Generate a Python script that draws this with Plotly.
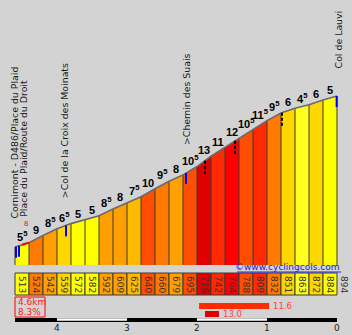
import numpy as np
import plotly.graph_objects as go

# ---------------- data ----------------
altitudes = [513, 524, 542, 559, 572, 582, 592, 609, 625, 640, 660, 679,
             695, 716, 742, 764, 788, 809, 832, 851, 863, 872, 884, 894]
gradients = [5.5, 9, 8.5, 6.5, 5, 5, 8.5, 8, 7.5, 10, 9.5, 8,
             10.5, 13, 11, 12, 10.5, 11.5, 9.5, 6, 4.5, 6, 5]
seg_km = 0.2
total_km = 4.6
avg_grade = 8.3
km_ticks = [4, 3, 2, 1, 0]          # km to the summit
place_names = ["Cornimont - D486/Place du Plaid", "Place du Plaid/Route du Droit",
               ">Col de la Croix des Moinats", ">Chemin des Suais", "Col de Lauvi"]
place_km = [-0.02, 0.11, 0.71, 2.44, 4.62]
max_1km = 11.6
max_1km_start = 2.63
max_200m = 13.0
max_200m_start = 2.714
blue_marks_km = [0.014, 0.057, 0.729, 2.443, 4.595]
black_solid_km = [2.443, 3.057, 3.443]
black_dash_km = [2.714, 3.143, 3.814]
red_stretch_km = [0.1, 0.2]
red_stretch_label = "8"

# ---------------- geometry helpers ----------------
W, H = 352, 335
PX_PER_KM = 70.0
X0_PX = 15.0
PX_PER_M = 0.3963
REF_ALT, REF_PY = 513.0, 247.0
y_top = REF_ALT + REF_PY / PX_PER_M
y_bot = REF_ALT - (H - REF_PY) / PX_PER_M
base_alt = REF_ALT - (265 - REF_PY) / PX_PER_M


def pp(py):
    return 1 - py / H


def m(px):
    return px / PX_PER_M


def grade_color(g):
    if g < 4.75:
        return "#FFFF20"
    if g < 5.75:
        return "#FFFF00"
    if g < 7:
        return "#FFD700"
    if g < 7.75:
        return "#FFBA00"
    if g < 8.75:
        return "#FFA000"
    if g < 9.75:
        return "#FF7A00"
    if g < 10.75:
        return "#FF4E00"
    if g < 11.75:
        return "#FF2A00"
    if g < 12.5:
        return "#FF0000"
    return "#E00000"


km = np.arange(len(altitudes)) * seg_km
alts = np.array(altitudes, dtype=float)

fig = go.Figure()
shapes = []
annotations = []

# segment fills
for i, g in enumerate(gradients):
    xs = [km[i], km[i], km[i + 1], km[i + 1], km[i]]
    ys = [base_alt, alts[i], alts[i + 1], base_alt, base_alt]
    fig.add_trace(go.Scatter(x=xs, y=ys, fill="toself", fillcolor=grade_color(g),
                             mode="lines", line=dict(width=0), hoverinfo="skip",
                             showlegend=False))

# vertical separators
vx, vy = [], []
for i in range(len(altitudes)):
    vx += [km[i], km[i], None]
    vy += [base_alt, alts[i], None]
fig.add_trace(go.Scatter(x=vx, y=vy, mode="lines", line=dict(color="#3a3a3a", width=1),
                         hoverinfo="skip", showlegend=False))

# top profile line
fig.add_trace(go.Scatter(x=km, y=alts, mode="lines", line=dict(color="#6a6a6a", width=1.6),
                         hoverinfo="skip", showlegend=False))

# red stretch
rx = np.array(red_stretch_km)
fig.add_trace(go.Scatter(x=rx, y=np.interp(rx, km, alts), mode="lines",
                         line=dict(color="#FF0000", width=2), hoverinfo="skip", showlegend=False))
annotations.append(dict(x=float(np.mean(rx)), y=float(np.interp(np.mean(rx), km, alts)),
                        text=red_stretch_label, showarrow=False, xanchor="center",
                        yanchor="bottom", yshift=15, borderpad=0,
                        font=dict(family="DejaVu Sans", size=7, color="#FF0000")))

# marker ticks
for k in blue_marks_km:
    a = float(np.interp(k, km, alts))
    shapes.append(dict(type="line", xref="x", yref="y", x0=k, x1=k, y0=a, y1=a - m(11),
                       line=dict(color="#0000FF", width=2)))
for k in black_solid_km:
    a = float(np.interp(k, km, alts))
    shapes.append(dict(type="line", xref="x", yref="y", x0=k, x1=k, y0=a - m(1), y1=a - m(14),
                       line=dict(color="#000000", width=2), layer="below"))
for k in black_dash_km:
    a = float(np.interp(k, km, alts))
    shapes.append(dict(type="line", xref="x", yref="y", x0=k, x1=k, y0=a, y1=a - m(15),
                       line=dict(color="#000000", width=2, dash="3px,2px")))

# gradient labels
for i, g in enumerate(gradients):
    whole = int(g)
    txt = f"<b>{whole}<sup>5</sup></b>" if g != whole else f"<b>{whole}</b>"
    annotations.append(dict(x=float(km[i] + seg_km / 2), y=float(alts[i + 1]), text=txt,
                            showarrow=False, xanchor="center", yanchor="bottom", yshift=-1,
                            borderpad=0,
                            font=dict(family="Liberation Sans", size=11, color="#000000")))

# place labels
for name, k in zip(place_names, place_km):
    a = float(np.interp(min(max(k, 0), total_km), km, alts))
    annotations.append(dict(x=k, y=a, text=name, textangle=-90, showarrow=False,
                            xanchor="center", yanchor="bottom", yshift=27, borderpad=0,
                            font=dict(family="DejaVu Sans", size=9.4, color="#1a1a1a")))

# altitude boxes
for i, a in enumerate(altitudes):
    last = i == len(altitudes) - 1
    if not last:
        shapes.append(dict(type="rect", xref="x", yref="paper", x0=km[i], x1=km[i] + seg_km,
                           y0=pp(295), y1=pp(273), fillcolor=grade_color(gradients[i]),
                           line=dict(color="#3a3a3a", width=1)))
    annotations.append(dict(x=float(km[i] + seg_km / 2), xref="x", y=pp(284), yref="paper",
                            xanchor="center", yanchor="middle",
                            text=str(a), textangle=90, showarrow=False,
                            font=dict(family="DejaVu Sans", size=9, color="#333333")))

# info box
shapes.append(dict(type="rect", xref="paper", yref="paper", x0=15 / W, x1=45 / W,
                   y0=pp(317), y1=pp(297), line=dict(color="#FF0000", width=1)))
annotations.append(dict(x=16 / W, y=pp(302), xref="paper", yref="paper", xanchor="left",
                        yanchor="middle", text=f"{total_km}km", showarrow=False,
                        font=dict(family="DejaVu Sans", size=9, color="#FF2020")))
annotations.append(dict(x=16 / W, y=pp(312), xref="paper", yref="paper", xanchor="left",
                        yanchor="middle", text=f"{avg_grade}%", showarrow=False,
                        font=dict(family="DejaVu Sans", size=9, color="#FF2020")))

# max gradient bars
shapes.append(dict(type="rect", xref="x", yref="paper", x0=max_1km_start, x1=max_1km_start + 1.0,
                   y0=pp(309), y1=pp(303), fillcolor=grade_color(max_1km), line=dict(width=0)))
annotations.append(dict(x=max_1km_start + 1.0, y=pp(306), xref="x", yref="paper", xanchor="left",
                        yanchor="middle", xshift=2, text=f"{max_1km:.1f}", showarrow=False,
                        font=dict(family="DejaVu Sans", size=8.5, color="#FF4040")))
shapes.append(dict(type="rect", xref="x", yref="paper", x0=max_200m_start, x1=max_200m_start + 0.2,
                   y0=pp(317), y1=pp(311), fillcolor=grade_color(max_200m), line=dict(width=0)))
annotations.append(dict(x=max_200m_start + 0.2, y=pp(314), xref="x", yref="paper", xanchor="left",
                        yanchor="middle", xshift=2, text=f"{max_200m:.1f}", showarrow=False,
                        font=dict(family="DejaVu Sans", size=8.5, color="#FF4040")))

# scale bar
shapes.append(dict(type="rect", xref="x", yref="paper", x0=0, x1=total_km, y0=pp(322), y1=pp(318),
                   fillcolor="#000000", line=dict(width=0)))
for k0 in [1, 3]:
    shapes.append(dict(type="rect", xref="x", yref="paper", x0=total_km - k0 - 1, x1=total_km - k0,
                       y0=pp(320.7), y1=pp(318.3), fillcolor="#FFFFFF", line=dict(width=0)))
for t in km_ticks:
    annotations.append(dict(x=total_km - t, y=pp(328), xref="x", yref="paper", text=str(t),
                            xanchor="center", yanchor="middle", showarrow=False,
                            font=dict(family="DejaVu Sans", size=9, color="#222222")))

# copyright
annotations.append(dict(x=341 / W, y=pp(267), xref="paper", yref="paper", xanchor="right",
                        yanchor="middle", text="©www.cyclingcols.com", showarrow=False,
                        font=dict(family="DejaVu Sans", size=9, color="#2020DD")))
shapes.append(dict(type="line", xref="paper", yref="paper", x0=237 / W, x1=341 / W,
                   y0=pp(272), y1=pp(272), line=dict(color="#2020DD", width=1)))

fig.update_layout(
    width=W, height=H, margin=dict(l=0, r=0, t=0, b=0),
    paper_bgcolor="#D3D3D3", plot_bgcolor="#D3D3D3",
    xaxis=dict(range=[-X0_PX / PX_PER_KM, (W - X0_PX) / PX_PER_KM], visible=False, fixedrange=True),
    yaxis=dict(range=[y_bot, y_top], visible=False, fixedrange=True),
    shapes=shapes, annotations=annotations, showlegend=False, hovermode=False,
)

fig.write_html("out.html", config={"displayModeBar": False})
